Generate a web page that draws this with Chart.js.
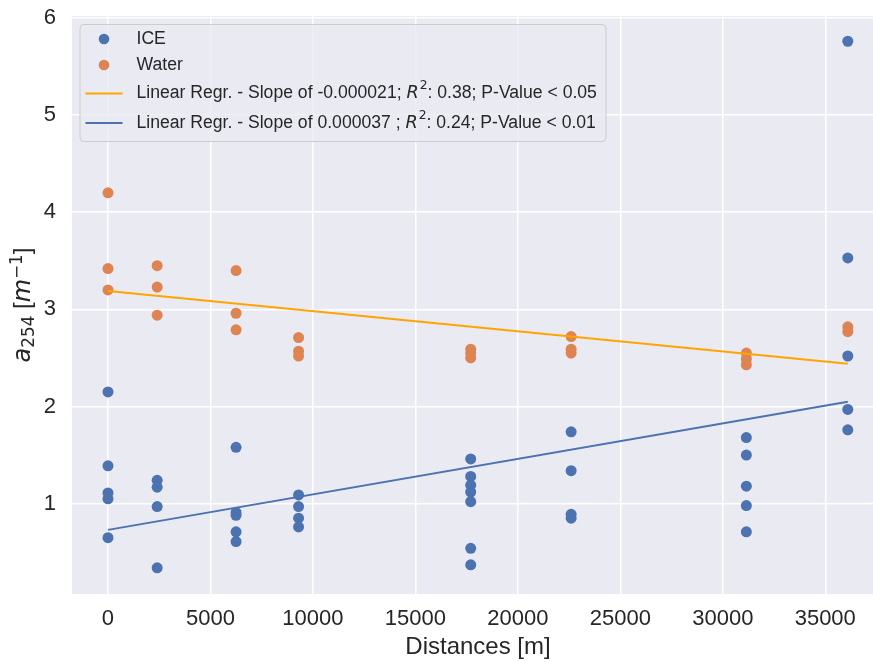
<!DOCTYPE html>
<html><head><meta charset="utf-8">
<script src="https://cdn.jsdelivr.net/npm/chart.js@4.4.1/dist/chart.umd.min.js"></script>
<style>html,body{margin:0;padding:0;background:#fff;} canvas{display:block;}</style>
</head><body>
<canvas id="c" width="873" height="662"></canvas>
<script>
// ---- data ----
const siteDistances = [0, 2400, 6250, 9300, 17700, 22600, 31150, 36100];
const iceValues = [
  [2.15, 1.39, 1.11, 1.05, 0.65],
  [1.24, 1.17, 0.97, 0.34],
  [1.58, 0.91, 0.88, 0.71, 0.61],
  [1.09, 0.97, 0.85, 0.76],
  [1.46, 1.28, 1.19, 1.12, 1.02, 0.54, 0.37],
  [1.74, 1.34, 0.89, 0.85],
  [1.68, 1.50, 1.18, 0.98, 0.71],
  [5.76, 3.53, 2.52, 1.97, 1.76]
];
const waterValues = [
  [4.20, 3.42, 3.20],
  [3.45, 3.23, 2.94],
  [3.40, 2.96, 2.79],
  [2.71, 2.57, 2.52],
  [2.59, 2.55, 2.50],
  [2.72, 2.59, 2.55],
  [2.55, 2.49, 2.43],
  [2.82, 2.77]
];
const regrX = [0, 36100];
const waterRegrY = [3.19, 2.44];
const iceRegrY = [0.73, 2.05];
const xTicks = [0, 5000, 10000, 15000, 20000, 25000, 30000, 35000];
const yTicks = [1, 2, 3, 4, 5, 6];
const seriesLabels = ['ICE', 'Water'];
const regrLabels = [
  'Linear Regr. - Slope of -0.000021; $R^2$: 0.38; P-Value < 0.05',
  'Linear Regr. - Slope of 0.000037 ; $R^2$: 0.24; P-Value < 0.01'
];
const xTitle = 'Distances [m]';

// ---- styling ----
const SANS = "'Liberation Sans', Arial, sans-serif";
const MATH = "'DejaVu Sans', sans-serif";
const TXT = '#262626';
const ICE_C = '#4c72b0', WATER_C = '#dd8452', ORANGE = '#ffa500';

function toPoints(values) {
  const pts = [];
  values.forEach((vals, i) => vals.forEach(v => pts.push({x: siteDistances[i], y: v})));
  return pts;
}
const lineFrom = ys => regrX.map((x, i) => ({x, y: ys[i]}));

const bgPlugin = {
  id: 'bg',
  beforeDraw(chart) {
    const {ctx, chartArea: a} = chart;
    ctx.save();
    ctx.fillStyle = '#ffffff';
    ctx.fillRect(0, 0, chart.width, chart.height);
    ctx.fillStyle = '#eaeaf2';
    ctx.fillRect(a.left, a.top, a.right - a.left, a.bottom - a.top);
    ctx.restore();
  }
};

function drawRich(ctx, x, y, str, size) {
  const parts = str.split(/\$(.*?)\$/);
  parts.forEach((p, i) => {
    if (i % 2 === 0) {
      ctx.font = `${size}px ${SANS}`;
      ctx.fillText(p, x, y);
      x += ctx.measureText(p).width;
    } else {
      const [base, sup] = p.split('^');
      ctx.font = `italic ${size}px ${MATH}`;
      ctx.fillText(base, x, y);
      x += ctx.measureText(base).width;
      ctx.font = `${size * 0.7}px ${MATH}`;
      ctx.fillText(sup, x + 1, y - size * 0.42);
      x += ctx.measureText(sup).width + 1;
    }
  });
}

const legendPlugin = {
  id: 'customLegend',
  afterDatasetsDraw(chart) {
    const ctx = chart.ctx;
    ctx.save();
    const bx = 80, by = 24.5, bw = 526, bh = 117, r = 4;
    ctx.beginPath();
    ctx.roundRect(bx, by, bw, bh, r);
    ctx.fillStyle = 'rgba(234,234,242,0.8)';
    ctx.fill();
    ctx.strokeStyle = '#cccccc';
    ctx.lineWidth = 1;
    ctx.stroke();
    const size = 17.6;
    const rows = [39, 65, 93.5, 123];
    const textX = 136.5;
    ctx.textBaseline = 'middle';
    ctx.textAlign = 'left';
    [ICE_C, WATER_C].forEach((c, i) => {
      ctx.beginPath();
      ctx.arc(104, rows[i], 5.3, 0, Math.PI * 2);
      ctx.fillStyle = c;
      ctx.fill();
    });
    [ORANGE, ICE_C].forEach((c, i) => {
      ctx.beginPath();
      ctx.moveTo(85.5, rows[i + 2]);
      ctx.lineTo(122.5, rows[i + 2]);
      ctx.strokeStyle = c;
      ctx.lineWidth = 2;
      ctx.stroke();
    });
    ctx.fillStyle = TXT;
    seriesLabels.forEach((t, i) => drawRich(ctx, textX, rows[i], t, size));
    regrLabels.forEach((t, i) => drawRich(ctx, textX, rows[i + 2], t, size));
    ctx.restore();
  }
};

const titlesPlugin = {
  id: 'axisTitles',
  afterDraw(chart) {
    const ctx = chart.ctx;
    const a = chart.chartArea;
    const size = 24, sub = size * 0.7;
    // x title (axes centre of the original figure, which extends past the right edge)
    ctx.save();
    ctx.fillStyle = TXT;
    ctx.font = `${size}px ${SANS}`;
    ctx.textAlign = 'center';
    ctx.textBaseline = 'middle';
    ctx.fillText(xTitle, 478, 647.6);
    ctx.restore();
    // y title with math text
    const pieces = [
      {t: 'a', f: `italic ${size}px ${MATH}`, dy: 0},
      {t: '254', f: `${sub}px ${MATH}`, dy: 4.5},
      {t: ' [', f: `${size}px ${SANS}`, dy: 0},
      {t: 'm', f: `italic ${size}px ${MATH}`, dy: 0},
      {t: '\u22121', f: `${sub}px ${MATH}`, dy: -8},
      {t: ']', f: `${size}px ${SANS}`, dy: 0}
    ];
    ctx.save();
    let total = 0;
    pieces.forEach(p => { ctx.font = p.f; p.w = ctx.measureText(p.t).width; total += p.w; });
    ctx.translate(29.5, (a.top + a.bottom) / 2);
    ctx.rotate(-Math.PI / 2);
    ctx.fillStyle = TXT;
    ctx.textBaseline = 'alphabetic';
    ctx.textAlign = 'left';
    let x = -total / 2;
    pieces.forEach(p => { ctx.font = p.f; ctx.fillText(p.t, x, p.dy); x += p.w; });
    ctx.restore();
  }
};

new Chart(document.getElementById('c'), {
  type: 'scatter',
  data: {
    datasets: [
      {label: 'lin2', data: lineFrom(iceRegrY), showLine: true, borderColor: ICE_C, borderWidth: 2,
       pointRadius: 0, fill: false, order: 0},
      {label: 'lin1', data: lineFrom(waterRegrY), showLine: true, borderColor: ORANGE, borderWidth: 2,
       pointRadius: 0, fill: false, order: 1},
      {label: seriesLabels[1], data: toPoints(waterValues), backgroundColor: WATER_C, borderWidth: 0,
       pointRadius: 5.5, order: 2},
      {label: seriesLabels[0], data: toPoints(iceValues), backgroundColor: ICE_C, borderWidth: 0,
       pointRadius: 5.5, order: 3}
    ]
  },
  options: {
    responsive: false,
    animation: false,
    layout: {autoPadding: false, padding: {top: 16, right: 0, bottom: 0, left: 0}},
    plugins: {legend: {display: false}, tooltip: {enabled: false}},
    scales: {
      x: {
        type: 'linear', min: -1756, max: 37330,
        afterBuildTicks: s => { s.ticks = xTicks.map(v => ({value: v})); },
        afterFit: s => { s.height = 68; s.paddingLeft = 0; s.paddingRight = 0; s.paddingTop = 0; s.paddingBottom = 0; },
        grid: {color: '#ffffff', lineWidth: 1.5, drawTicks: false},
        border: {display: false},
        ticks: {color: TXT, font: {family: SANS, size: 22}, padding: 12, maxRotation: 0,
                callback: v => String(v)},
        title: {display: false}
      },
      y: {
        type: 'linear', min: 0.07, max: 6.02,
        afterBuildTicks: s => { s.ticks = yTicks.map(v => ({value: v})); },
        afterFit: s => { s.width = 72; s.paddingLeft = 0; s.paddingRight = 0; s.paddingTop = 0; s.paddingBottom = 0; },
        grid: {color: '#ffffff', lineWidth: 1.5, drawTicks: false},
        border: {display: false},
        ticks: {color: TXT, font: {family: SANS, size: 22}, padding: 16, callback: v => String(v)}
      }
    }
  },
  plugins: [bgPlugin, legendPlugin, titlesPlugin]
});
</script>
</body></html>
